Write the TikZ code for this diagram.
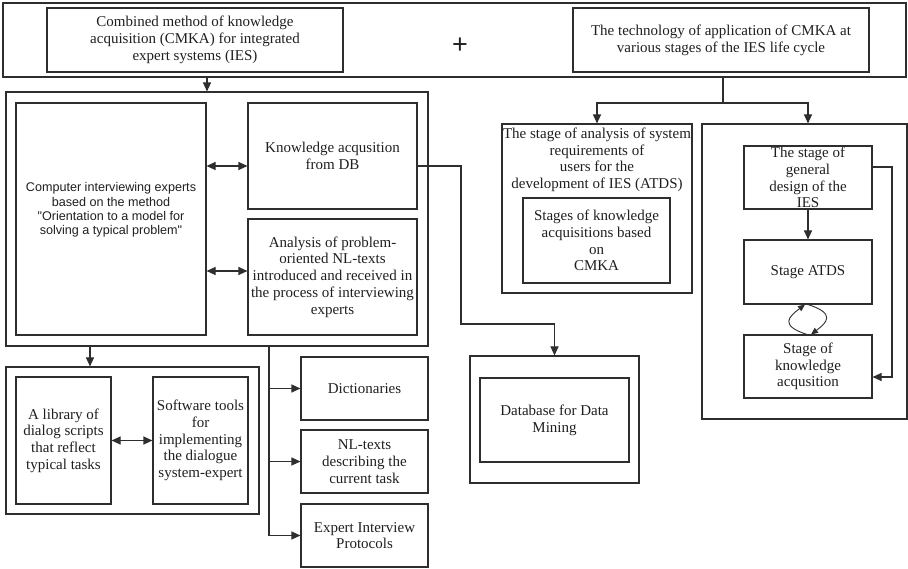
\documentclass[tikz,border=0pt]{standalone}
\usepackage{fontspec}
\setmainfont{Liberation Serif}
\newfontfamily\arialfont{Liberation Sans}
\usetikzlibrary{arrows.meta,calc,positioning}
\definecolor{LineGray}{HTML}{2E2E2E}

\begin{document}
\begin{tikzpicture}[x=1pt,y=-1pt,line width=1.1pt,draw=LineGray,
 font=\fontsize{15}{16.7}\selectfont,
 every node/.style={inner sep=1pt,align=center,text=black!88},
 box/.style 2 args={draw=LineGray,minimum width=#1,minimum height=#2},
 >={Triangle[length=9pt,width=8pt]}]
\useasboundingbox (0,0) rectangle (908,569);
% top band
\node[box={903}{74}] (band) at (454.5,40) {};
\node[box={296}{64}] (cmka) at (195,40) {Combined method of knowledge\\acquisition (CMKA) for integrated\\expert systems (IES)};
\node[font=\arialfont\fontsize{27}{27}\selectfont] (plus) at (460,46) {+};
\node[box={296}{64}] (tech) at (721,40) {The technology of application of CMKA at\\various stages of the IES life cycle};
% method block
\node[box={422}{254}] (box1) at (217,219) {};
\node[box={190}{232}] (cie) at (111,219) {};
\node[font=\arialfont\fontsize{12.6}{14.3}\selectfont] (cietxt) at ([yshift=9pt]cie.center) {Computer interviewing experts\\based on the method\\"Orientation to a model for\\solving a typical problem"};
\node[box={169}{106}] (kadb) at (332.5,156) {Knowledge acqusition\\from DB};
\node[box={169}{116}] (ana) at (332.5,277) {Analysis of problem-\\oriented NL-texts\\introduced and received in\\the process of interviewing\\experts};
% dialogue block
\node[box={253}{147}] (low) at (132.5,440.5) {};
\node[box={95}{127}] (lib) at (63.5,440.5) {A library of\\dialog scripts\\that reflect\\typical tasks};
\node[box={95}{127}] (soft) at (200.5,440.5) {Software tools\\for\\implementing\\the dialogue\\system-expert};
% resources
\node[box={127}{63}] (dict) at (364.5,388.5) {Dictionaries};
\node[box={127}{63}] (nl) at (364.5,461.5) {NL-texts\\describing the\\current task};
\node[box={127}{63}] (expert) at (364.5,535.5) {Expert Interview\\Protocols};
\node[box={169}{127}] (dbout) at (554.5,419.5) {};
\node[box={149}{84}] (dbin) at (554.5,420) {Database for Data\\Mining};
% life cycle stages
\node[box={190}{169}] (stage1) at (597,208.5) {};
\node[anchor=north] (stage1txt) at ([yshift=-3pt]stage1.north) {The stage of analysis of system\\requirements of\\users for the\\development of IES (ATDS)};
\node[box={147}{85}] (cmkast) at (596.5,240.5) {Stages of knowledge\\acquisitions based\\on\\CMKA};
\node[box={205}{295}] (rbox) at (804.5,271.5) {};
\node[box={128}{63}] (gen) at (808,177.5) {};
\node (gentxt) at (gen.center) {The stage of\\general\\design of the\\IES};
\node[box={128}{64}] (atds) at (808,272) {Stage ATDS};
\node[box={128}{63}] (kast) at (808,366.5) {Stage of\\knowledge\\acqusition};

% connectors
\coordinate (a1) at (207,0);
\draw[->] (band.south -| a1) -- (box1.north -| a1);
\coordinate (split) at (723,103);
\draw (band.south -| split) -- (split);
\draw[->] (split) -| (stage1.north);
\draw[->] (split) -| (rbox.north -| gen);
\coordinate (d1) at (0,166); \coordinate (d2) at (0,271);
\draw[<->] (cie.east |- d1) -- (kadb.west |- d1);
\draw[<->] (cie.east |- d2) -- (ana.west |- d2);
\coordinate (kd1) at (461,166); \coordinate (kd2) at (461,324);
\draw[->] (kadb.east |- kd1) -- (kd1) -- (kd2) -| (dbout.north);
\coordinate (b1l) at (90,0); \coordinate (b1r) at (269,0);
\draw[->] (box1.south -| b1l) -- (low.north -| b1l);
\draw (box1.south -| b1r) -- (expert.west -| b1r);
\foreach \n in {dict,nl,expert}{\draw[->] (\n.west -| b1r) -- (\n.west);}
\draw[<->] (lib.east) -- (soft.west);
\draw[->] (gen) -- (atds);
\coordinate (g1) at ([yshift=10.5pt]gen.east);
\coordinate (k1) at ([yshift=-10.5pt]kast.east);
\coordinate (lp) at (892,0);
\draw[->] (g1) -| (lp |- k1) -- (k1);
\draw[->,line width=.9pt,>={Triangle[length=7pt,width=6pt]}] ([xshift=-1pt]kast.north) .. controls +(-28,-9) and +(-16,12) .. ([xshift=-3pt]atds.south);
\draw[->,line width=.9pt,>={Triangle[length=7pt,width=6pt]}] ([xshift=0pt]atds.south) .. controls +(28,9) and +(16,-12) .. ([xshift=3pt]kast.north);
\end{tikzpicture}
\end{document}
